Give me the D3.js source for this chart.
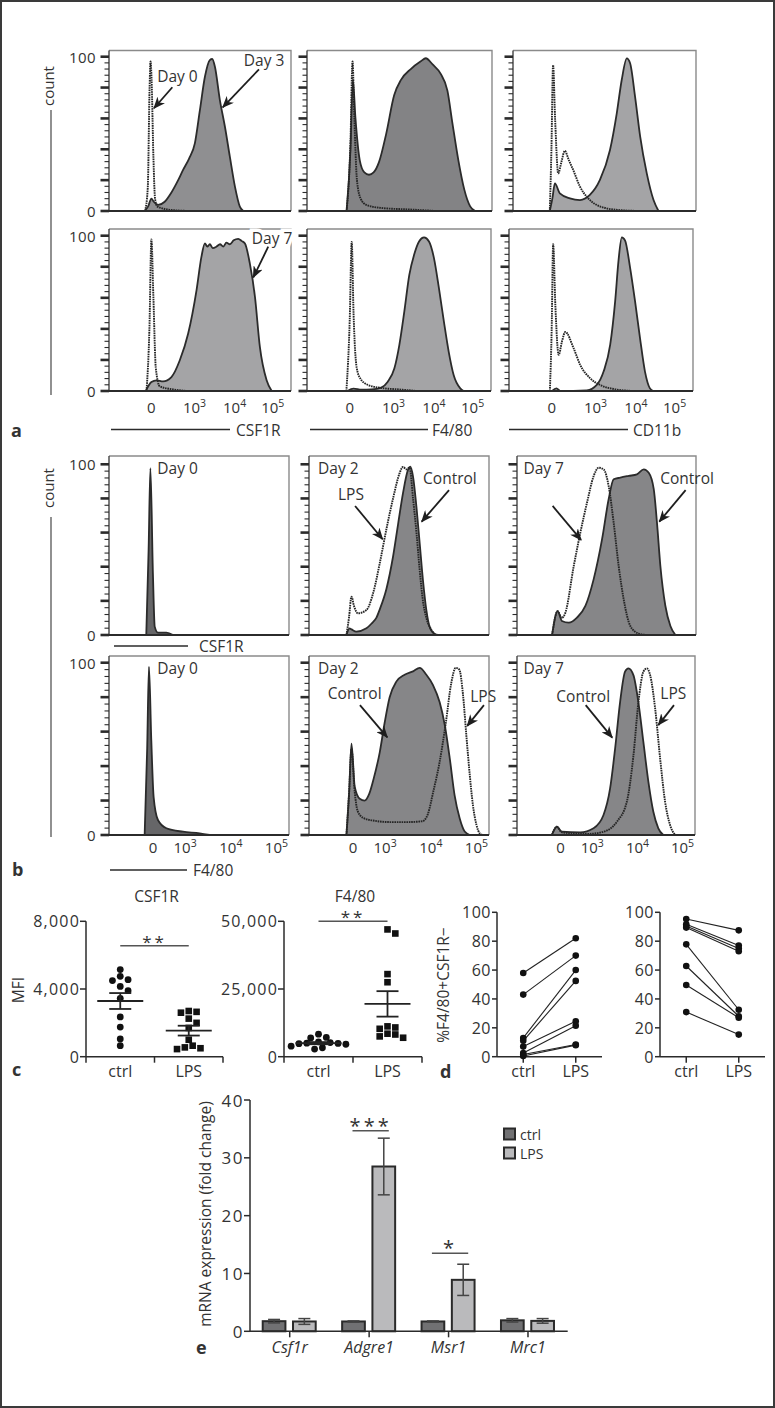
<!DOCTYPE html>
<html><head><meta charset="utf-8">
<script src="https://cdn.jsdelivr.net/npm/d3@7"></script>
<style>
body{margin:0;background:#fff;}
text{font-family:'Open Sans',sans-serif;fill:#333;}
</style>
</head><body><svg id="fig" width="775" height="1408"></svg>
<script>
// ---------------- DATA ----------------
// Histogram curves: [channel position (% of axis width), count (% of max)]
// Panel a, top row (Day 0 dotted vs Day 3 filled)
const aCsf1rDay0 = [[19.8,0],[21.3,15],[22.3,80],[22.8,97],[23.4,85],[24.4,35],[25.3,8],[26.5,3],[30,1.5],[36,0.5],[45,0]];
const aCsf1rDay3 = [[19.6,0],[21.5,3],[23.3,8],[24.6,6],[27,4],[30.6,6],[34.3,12],[38,20],[40.7,26.6],[44,34],[47.2,44],[49.9,65],[52.7,87],[55.4,97.8],[56.7,98.5],[58.2,93.5],[60.9,72],[63.7,54.6],[66.4,35.2],[69.2,15.8],[71.9,2.8],[73.8,0]];
const aF480Day0 = [[21.4,0],[23.5,45],[24.6,97],[25.6,60],[27,20],[29,8],[32,4],[40,2],[55,1],[70,0]];
const aF480Day3 = [[21.4,0],[23.5,40],[24.8,85],[26.2,60],[28.5,33],[31,25],[33.5,23.5],[36,25],[39,32],[42.8,50],[47.1,75],[50.8,85],[56.1,92],[61.5,97],[64.2,99],[67.9,95],[72.2,89],[75.9,78],[78.6,57],[81.8,33],[85,14],[88.2,3],[90.9,0]];
const aCd11bDay0 = [[20.1,0],[21,40],[21.9,94.6],[23,60],[24.7,24.4],[26.5,32],[28.3,39],[30.5,33],[32.9,26.6],[36.6,15.8],[41.1,8.2],[45.7,3.9],[51.2,1.7],[58.5,0.6],[69.5,0]];
const aCd11bDay3 = [[20.1,0],[21.5,8],[22.9,17.9],[25.6,11.4],[31.1,8.2],[36.6,7.1],[42,10.4],[47.5,20.1],[53,39.5],[56.7,63.3],[59.4,84.9],[62.2,98.9],[64,95.7],[66.7,74.1],[69.5,48.2],[73.1,24.4],[76.8,7.1],[79.5,0]];
// Panel a, bottom row (Day 0 dotted vs Day 7 filled)
const aCsf1rDay0b = [[20.6,0],[22.2,40],[23.3,97.6],[24.4,60],[25.7,15],[27.9,3],[35.2,1],[42.6,0]];
const aCsf1rDay7 = [[20.2,0],[23.3,5.8],[26.1,6.9],[29.7,6.2],[34.3,9],[38.9,19.8],[43.5,37],[48.1,65],[50.8,86.5],[52.7,95],[54,93],[55.4,94.5],[57,92],[59.1,93],[61,94.5],[62.8,93],[64.5,95.5],[66.4,94.5],[68.5,97],[71,98],[73,96.5],[74.7,95],[77.4,82],[80.2,60.6],[82.9,28.4],[86.6,6.9],[89.4,0]];
const aF480Day0b = [[21.4,0],[23.2,45],[24.3,96],[25.3,50],[27,15],[29,8],[33,4],[40,2],[50,1],[60,0]];
const aF480Day7 = [[22,0],[25.3,1.5],[29.6,0.8],[35,1],[40.3,2.2],[43.9,6],[47.5,14.6],[50.2,29.7],[52.9,51.2],[55.6,74.8],[58.2,87.7],[60.9,96.3],[63.6,98.9],[66.3,96.3],[69,85.6],[71.7,66.2],[74.4,44.7],[77,25.4],[79.7,10.3],[83.3,1.7],[85.1,0]];
const aCd11bDay0b = [[22.2,0],[23.2,40],[24,94.6],[25.2,55],[27,23.3],[28.8,32],[30.6,38],[35.1,27.6],[38.7,16.8],[44.1,8.2],[49.5,3.9],[56.8,1.3],[67.6,0]];
const aCd11bDay7 = [[23.4,0],[25.8,1.7],[27.9,0],[42.3,0.4],[47.7,3.9],[51.4,12.5],[55,29.8],[57.7,57.9],[59.5,83.8],[61.3,98.9],[63.1,96.8],[65.8,79.5],[68.5,57.9],[71.2,34.1],[73.9,12.5],[76.6,1.7],[78.4,0]];
// Panel b, top row CSF1R
const bCsf1rDay0 = [[20.7,0],[22,50],[23,97.7],[24.4,36],[25.4,4.9],[27.2,1.4],[31.9,1.4],[35.6,0]];
const bCsf1rDay2Ctrl = [[20.8,0],[22.5,3.9],[23.6,3.3],[26.3,2],[31.9,3.9],[35,7],[37.4,10],[39.3,15],[43,27],[46.7,46],[49.5,65],[52.2,83],[55,96.7],[56.3,98.6],[57.8,92.8],[59.7,75],[61.5,53.7],[63.3,32.2],[65.2,14.6],[67,4.9],[69.8,0.6],[71.7,0]];
const bCsf1rDay2Lps = [[20.8,0],[22.2,10],[23.6,22.5],[25,17],[27.2,12.7],[31.9,14.6],[35.6,24.4],[39.3,42],[43,62],[46.7,80],[50.4,95],[52.2,98.5],[54.1,97],[55.9,98],[57.8,80],[59.7,60],[61.5,38],[63.3,20],[65.2,10],[68,3],[70.8,0]];
const bCsf1rDay7Ctrl = [[19.6,0],[22.7,14],[25.1,8.2],[28.9,7.2],[33.5,10.2],[38.2,17],[42.8,32.6],[47.5,56],[51.2,79.5],[54,91.2],[57.7,92.2],[62.4,93.2],[67,94.1],[70.8,97],[73.6,95],[76.4,85.4],[78.2,65.8],[80.1,40.4],[82.9,17],[85.7,5.3],[88.5,0]];
const bCsf1rDay7Lps = [[19.6,0],[22.7,14],[25,10],[27,13],[31.7,40.4],[35.4,60],[39.1,77.5],[42.8,93],[45.6,98],[48.4,97],[51.2,87.3],[54,65.8],[56.8,40.4],[59.6,20.9],[63.3,5.3],[68,0.8],[72.6,0]];
// Panel b, bottom row F4/80
const bF480Day0 = [[19.8,0],[21.2,50],[22.2,97.7],[23.5,55],[24.8,22],[27.2,8.7],[31.9,3.9],[41.1,1.9],[50.4,1],[55.9,0]];
const bF480Day2Ctrl = [[20.8,0],[22.3,25],[23.6,53],[25.4,28],[28.2,21],[30.9,20],[33.5,24],[36,33],[39.3,48],[42,65],[44.8,80],[48.5,89],[53.1,93],[57.8,95],[61.5,97],[65.2,93],[68.9,87],[72.6,77],[75.4,64],[78.2,44.5],[80.9,23],[83.7,9.7],[86.5,2],[89.3,0]];
const bF480Day2Lps = [[20.8,0],[22.3,25],[23.6,50],[25.4,25],[27,14],[30,10],[35,8.5],[45,7.5],[55,7.5],[63,8],[66,12],[69,25],[72.5,42],[76,65],[79,88],[81.5,97],[83.5,96],[85.5,82],[87.4,58],[89.3,35],[91.1,17],[93,6],[94.8,1],[96.7,0]];
const bF480Day7Ctrl = [[19.6,0],[22.4,4.8],[25.2,1.9],[35.5,1.5],[43,3.9],[48.6,11.6],[52.3,27],[55.1,50],[57.9,77],[60.7,94.8],[62.6,96.7],[65.4,92.8],[68.2,77],[71,54],[73.8,31],[76.6,13.5],[79.4,3.9],[82.2,0]];
const bF480Day7Lps = [[19.6,0],[22.4,4.8],[25.2,1.5],[39.3,0.6],[48.6,1.9],[56.1,7.7],[61.7,19.3],[65.4,46],[68.2,77],[71,94.8],[72.9,96.7],[74.8,92.8],[77.6,73.5],[80.4,44.5],[83.2,19.3],[86,5.8],[88.8,0]];
// Histogram axis tick labels
const histTickBase = ["0","10","10","10"];
const histTickExp = ["", "3", "4", "5"];
const aTickPos = [23.3, 47, 69, 90];
const bTickPos = [24.5, 42.3, 67.7, 93];
const histCountTicks = [0, 100];

// Panel c (MFI)
const cCats = ["ctrl", "LPS"];
const cCsf1rCtrl = [5150, 4750, 4550, 4500, 4150, 3900, 3450, 2350, 1750, 1050, 650];
const cCsf1rLps = [2700, 2650, 2600, 2250, 2000, 1700, 1000, 650, 550, 500, 450];
const cCsf1rMean = [3290, 1540];
const cCsf1rSem = [470, 290];
const cCsf1rTicks = [0, 4000, 8000];
const cF480Ctrl = [8300, 7100, 6900, 5500, 5200, 5000, 4900, 4800, 4600, 3900, 3300, 2800];
const cF480Lps = [47000, 45500, 30500, 27500, 11200, 10800, 10300, 8500, 8200, 7500, 7000];
const cF480Mean = [5000, 19500];
const cF480Sem = [400, 4700];
const cF480Ticks = [0, 25000, 50000];
const cSigLevels = [6560, 50000];

// Panel d (% F4/80+CSF1R-)
const dCats = ["ctrl", "LPS"];
const dLeftCtrl = [58, 43, 13, 11, 7, 2.5, 1.5, 0.5];
const dLeftLps  = [82, 70, 60, 52.5, 24.5, 21.5, 8.5, 8];
const dRightCtrl = [95.4, 91.7, 90.5, 89.4, 77.8, 62.8, 49.7, 30.9];
const dRightLps  = [87.5, 77, 75, 73, 32.5, 28, 27, 15.3];
const dTicks = [0, 20, 40, 60, 80, 100];

// Panel e (mRNA)
const eGenes = ["Csf1r", "Adgre1", "Msr1", "Mrc1"];
const eGroups = ["ctrl", "LPS"];
const eCtrl = [1.75, 1.7, 1.7, 1.9];
const eCtrlErr = [0.3, 0.1, 0.1, 0.3];
const eLps = [1.7, 28.5, 8.9, 1.8];
const eLpsErr = [0.5, 4.9, 2.7, 0.4];
const eTicks = [0, 10, 20, 30, 40];
const eSigGenes = ["Adgre1", "Msr1"];
const eSigLabels = ["***", "*"];
const eSigLevels = [34.7, 13.5];

// ---------------- DRAWING ----------------
const svg = d3.select("#fig");
const INK = "#2b2b2b";
svg.append("rect").attr("x",1).attr("y",1).attr("width",773).attr("height",1406)
  .attr("fill","#fff").attr("stroke","#3a3a3a").attr("stroke-width",2);

const defs = svg.append("defs");
defs.append("marker").attr("id","arr").attr("viewBox","0 0 12 10").attr("refX",11).attr("refY",5)
  .attr("markerWidth",12).attr("markerHeight",10).attr("markerUnits","userSpaceOnUse").attr("orient","auto")
  .append("path").attr("d","M0,0 L12,5 L0,10 L3.5,5 Z").attr("fill","#1e1e1e");

function txt(g, x, y, s, o = {}) {
  const t = g.append("text").attr("x", x).attr("y", y).text(s)
    .attr("font-size", o.size || 15).attr("text-anchor", o.anchor || "start");
  if (o.weight) t.attr("font-weight", o.weight);
  if (o.style) t.attr("font-style", o.style);
  if (o.rotate) t.attr("transform", `rotate(-90,${x},${y})`);
  if (o.db) t.attr("dominant-baseline", o.db);
  if (o.ls) t.attr("letter-spacing", o.ls);
  return t;
}

function hist(p) {
  const g = svg.append("g");
  const x = d3.scaleLinear().domain([0, 100]).range([p.x0, p.x1]);
  const y = d3.scaleLinear().domain([0, 100]).range([p.yZero, p.yHund]);
  const area = d3.area().curve(d3.curveMonotoneX).x(d => x(d[0])).y0(y(0)).y1(d => y(d[1]));
  const line = d3.line().curve(d3.curveMonotoneX).x(d => x(d[0])).y(d => y(d[1]));
  g.append("path").attr("d", `M${p.x0},${p.yTop}H${p.x1}V${p.yZero}`)
    .attr("fill", "none").attr("stroke", "#8a8a8a").attr("stroke-width", 1.4);
  if (p.filled) {
    g.append("path").attr("d", area(p.filled)).attr("fill", p.fill);
    g.append("path").attr("d", line(p.filled)).attr("fill", "none").attr("stroke", INK).attr("stroke-width", 1.8);
  }
  if (p.dotted) {
    g.append("path").attr("d", line(p.dotted)).attr("fill", "none").attr("stroke", "#262626")
      .attr("stroke-width", 1.9).attr("stroke-dasharray", "1.6,0.8");
  }
  g.append("line").attr("x1", p.x0).attr("x2", p.x0).attr("y1", p.yTop).attr("y2", p.yZero)
    .attr("stroke", "#444").attr("stroke-width", 1.4);
  g.append("line").attr("x1", p.x0 - 1).attr("x2", p.x1).attr("y1", p.yZero).attr("y2", p.yZero)
    .attr("stroke", INK).attr("stroke-width", 2);
  d3.range(0, 101, 4).forEach(v => {
    const major = v % 20 === 0;
    g.append("line").attr("x1", p.x0 - (major ? 8.5 : 4.5)).attr("x2", p.x0)
      .attr("y1", y(v)).attr("y2", y(v)).attr("stroke", INK).attr("stroke-width", major ? 2.6 : 1.1);
  });
  if (p.yLabels) {
    histCountTicks.forEach(v => txt(g, p.x0 - 13, y(v), String(v), {size: 15, anchor: "end", db: "central", ls: 0.4}));
  }
  if (p.tickPos) {
    p.tickPos.forEach((pos, i) => {
      const t = g.append("text").attr("x", x(pos)).attr("y", p.tickY).attr("font-size", 15).attr("text-anchor", "middle");
      t.append("tspan").text(histTickBase[i]);
      if (histTickExp[i]) t.append("tspan").attr("font-size", 10.5).attr("dy", -6).text(histTickExp[i]);
    });
  }
  (p.notes || []).forEach(n => {
    if (n.text) {
      const t = txt(g, x(n.at[0]), y(n.at[1]), n.text, {size: 15.5, anchor: "middle", db: "central"});
      if (n.halo) t.attr("stroke", "#fff").attr("stroke-width", 7).attr("paint-order", "stroke");
    }
    if (n.from) {
      g.append("line").attr("x1", x(n.from[0])).attr("y1", y(n.from[1]))
        .attr("x2", x(n.to[0])).attr("y2", y(n.to[1]))
        .attr("stroke", "#1e1e1e").attr("stroke-width", 1.8).attr("marker-end", "url(#arr)");
    }
  });
}

const aR1 = {yTop: 50.5, yZero: 211, yHund: 56.7};
const aR2 = {yTop: 229, yZero: 391, yHund: 235.7};
const bR1 = {yTop: 456, yZero: 635, yHund: 464.3};
const bR2 = {yTop: 656, yZero: 835, yHund: 662.7};
const FA1 = "#8f8f91", FA2 = "#a4a4a6", FB = "#868688", FB0 = "#666668";

// Panel a
hist({...aR1, x0: 109, x1: 291, filled: aCsf1rDay3, dotted: aCsf1rDay0, fill: FA1, yLabels: true,
  notes: [{text: "Day 0", at: [37.6, 87.3], from: [34.8, 80.2], to: [24.7, 66.6]},
          {text: "Day 3", at: [85.2, 97.9], from: [82.4, 91.8], to: [62.5, 67.2]}]});
hist({...aR1, x0: 307, x1: 492, filled: aF480Day3, dotted: aF480Day0, fill: "#838385"});
hist({...aR1, x0: 513, x1: 696, filled: aCd11bDay3, dotted: aCd11bDay0, fill: FA2});
hist({...aR2, x0: 109, x1: 291, filled: aCsf1rDay7, dotted: aCsf1rDay0b, fill: FA2, yLabels: true, tickPos: aTickPos, tickY: 413,
  notes: [{text: "Day 7", at: [89.6, 98.8], from: [87.5, 92.9], to: [79.3, 73.2], halo: true}]});
hist({...aR2, x0: 307, x1: 491, filled: aF480Day7, dotted: aF480Day0b, fill: FA2, tickPos: aTickPos, tickY: 413});
hist({...aR2, x0: 509, x1: 693, filled: aCd11bDay7, dotted: aCd11bDay0b, fill: FA2, tickPos: aTickPos, tickY: 413});

// Panel b
hist({...bR1, x0: 109, x1: 289, filled: bCsf1rDay0, fill: FB0, yLabels: true,
  notes: [{text: "Day 0", at: [38.1, 98]}]});
hist({...bR1, x0: 309, x1: 489, filled: bCsf1rDay2Ctrl, dotted: bCsf1rDay2Lps, fill: FB,
  notes: [{text: "Day 2", at: [16.3, 98]},
          {text: "LPS", at: [23.3, 82.4], from: [25.6, 75.6], to: [40.9, 56.1]},
          {text: "Control", at: [78.3, 91.8], from: [77.8, 84.9], to: [62.6, 66.4]}]});
hist({...bR1, x0: 517, x1: 696, filled: bCsf1rDay7Ctrl, dotted: bCsf1rDay7Lps, fill: FB,
  notes: [{text: "Day 7", at: [14.9, 98]},
          {from: [19.9, 75.6], to: [35.8, 55.7]},
          {text: "Control", at: [95, 91.8], from: [94.2, 84.9], to: [79.5, 66.4]}]});
hist({...bR2, x0: 109, x1: 289, filled: bF480Day0, fill: FB0, yLabels: true, tickPos: bTickPos, tickY: 853,
  notes: [{text: "Day 0", at: [38.1, 97.1]}]});
hist({...bR2, x0: 309, x1: 489, filled: bF480Day2Ctrl, dotted: bF480Day2Lps, fill: FB, tickPos: bTickPos, tickY: 853,
  notes: [{text: "Day 2", at: [16.3, 97.1]},
          {text: "Control", at: [25.4, 82.2], from: [28.3, 75.4], to: [43.5, 56.7]},
          {text: "LPS", at: [96.8, 80.7], from: [97.2, 75.4], to: [87.9, 63.3]}]});
hist({...bR2, x0: 517, x1: 695, filled: bF480Day7Ctrl, dotted: bF480Day7Lps, fill: FB, tickPos: bTickPos, tickY: 853,
  notes: [{text: "Day 7", at: [15, 97.1]},
          {text: "Control", at: [37.2, 80.7], from: [38.6, 75.4], to: [53.5, 56.5]},
          {text: "LPS", at: [87.8, 82.6], from: [88.2, 75.4], to: [79.4, 63.8]}]});

// Axis names and count labels (a, b)
const lab = svg.append("g");
function axisName(x1, x2, y, s, tx) {
  lab.append("line").attr("x1", x1).attr("x2", x2).attr("y1", y).attr("y2", y).attr("stroke", INK).attr("stroke-width", 1.3);
  txt(lab, tx, y, s, {size: 15.5, db: "central"});
}
axisName(111, 230, 429.5, "CSF1R", 236);
axisName(310, 428, 429.5, "F4/80", 432);
axisName(509, 628, 429.5, "CD11b", 633);
axisName(114, 188, 646, "CSF1R", 199);
axisName(110, 187, 870, "F4/80", 193);
function countLabel(cy, l1, l2) {
  txt(lab, 48, cy, "count", {size: 15, anchor: "middle", rotate: true, db: "central"});
  lab.append("line").attr("x1", 51).attr("x2", 51).attr("y1", l1).attr("y2", l2).attr("stroke", "#555").attr("stroke-width", 1.3);
}
countLabel(86, 110, 395);
countLabel(488, 517, 837);
txt(lab, 11, 437, "a", {size: 18, weight: "bold"});
txt(lab, 12, 876, "b", {size: 18, weight: "bold"});
txt(lab, 12, 1076, "c", {size: 18, weight: "bold"});
txt(lab, 440, 1078, "d", {size: 18, weight: "bold"});
txt(lab, 196, 1354, "e", {size: 18, weight: "bold"});

// swarm helper
function swarm(vals, yScale, cx, r) {
  const pts = vals.map(v => ({v, y: yScale(v)})).sort((a, b) => a.y - b.y);
  const placed = [];
  pts.forEach(p => {
    const cand = [0];
    for (let i = 1; i < 12; i++) cand.push(i * r * 1.15, -i * r * 1.15);
    let off = 0;
    for (const o of cand) {
      if (placed.every(q => Math.hypot(q.x - (cx + o), q.y - p.y) >= 2 * r * 0.92)) { off = o; break; }
    }
    p.x = cx + off; placed.push(p);
  });
  return pts;
}

// Panel c
function mfiPanel(o) {
  const g = svg.append("g");
  const x = d3.scaleBand().domain(cCats).range([o.x0, o.x1]);
  const y = d3.scaleLinear().domain([0, o.max]).range([1056.7, 921.3]);
  const cx = c => x(c) + x.bandwidth() / 2;
  g.append("line").attr("x1", o.x0).attr("x2", o.x0).attr("y1", y(o.max)).attr("y2", y(0)).attr("stroke", INK).attr("stroke-width", 1.5);
  g.append("line").attr("x1", o.x0).attr("x2", o.x1).attr("y1", y(0)).attr("y2", y(0)).attr("stroke", INK).attr("stroke-width", 1.5);
  o.ticks.forEach(v => {
    g.append("line").attr("x1", o.x0 - 6).attr("x2", o.x0).attr("y1", y(v)).attr("y2", y(v)).attr("stroke", INK).attr("stroke-width", 1.5);
    txt(g, o.x0 - 6, y(v), d3.format(",")(v), {size: 16, anchor: "end", db: "central", ls: 1.2});
  });
  [o.x0, ...cCats.map(c => x(c) + x.bandwidth())].forEach(xx =>
    g.append("line").attr("x1", xx).attr("x2", xx).attr("y1", y(0)).attr("y2", y(0) + 6).attr("stroke", INK).attr("stroke-width", 1.5));
  cCats.forEach(c => txt(g, cx(c), 1077, c, {size: 16, anchor: "middle"}));
  txt(g, (o.x0 + o.x1) / 2 + 2, 902, o.title, {size: 15.5, anchor: "middle"});
  swarm(o.ctrl, y, cx("ctrl"), 3.4).forEach(p =>
    g.append("circle").attr("cx", p.x).attr("cy", p.y).attr("r", 3.4).attr("fill", "#111"));
  swarm(o.lps, y, cx("LPS"), 3.4).forEach(p =>
    g.append("rect").attr("x", p.x - 3.3).attr("y", p.y - 3.3).attr("width", 6.6).attr("height", 6.6).attr("fill", "#111"));
  cCats.forEach((c, i) => {
    const m = o.mean[i], s = o.sem[i], xc = cx(c);
    g.append("line").attr("x1", xc - 23).attr("x2", xc + 23).attr("y1", y(m)).attr("y2", y(m)).attr("stroke", "#222").attr("stroke-width", 1.8);
    g.append("line").attr("x1", xc).attr("x2", xc).attr("y1", y(m - s)).attr("y2", y(m + s)).attr("stroke", "#222").attr("stroke-width", 1.8);
    [m - s, m + s].forEach(v => g.append("line").attr("x1", xc - 11).attr("x2", xc + 11).attr("y1", y(v)).attr("y2", y(v)).attr("stroke", "#222").attr("stroke-width", 1.8));
  });
  const sy = y(o.sig);
  g.append("line").attr("x1", cx("ctrl")).attr("x2", cx("LPS")).attr("y1", sy).attr("y2", sy).attr("stroke", "#555").attr("stroke-width", 1.5);
  txt(g, (cx("ctrl") + cx("LPS")) / 2, sy + 2, "**", {size: 17, anchor: "middle", ls: 3});
}
mfiPanel({x0: 86, x1: 223, max: 8000, ticks: cCsf1rTicks, ctrl: cCsf1rCtrl, lps: cCsf1rLps, mean: cCsf1rMean, sem: cCsf1rSem, title: "CSF1R", sig: cSigLevels[0]});
mfiPanel({x0: 284, x1: 422, max: 50000, ticks: cF480Ticks, ctrl: cF480Ctrl, lps: cF480Lps, mean: cF480Mean, sem: cF480Sem, title: "F4/80", sig: cSigLevels[1]});
txt(svg, 18, 990, "MFI", {size: 15.5, anchor: "middle", rotate: true, db: "central"});

// Panel d
function pairPanel(x0, x1, ctrl, lps) {
  const g = svg.append("g");
  const x = d3.scalePoint().domain(dCats).range([x0, x1]).padding(0.5);
  const y = d3.scaleLinear().domain([0, 100]).range([1056.7, 912.3]);
  g.append("line").attr("x1", x0).attr("x2", x0).attr("y1", y(100)).attr("y2", y(0)).attr("stroke", INK).attr("stroke-width", 1.5);
  g.append("line").attr("x1", x0).attr("x2", x1).attr("y1", y(0)).attr("y2", y(0)).attr("stroke", INK).attr("stroke-width", 1.5);
  dTicks.forEach(v => {
    g.append("line").attr("x1", x0 - 5).attr("x2", x0).attr("y1", y(v)).attr("y2", y(v)).attr("stroke", INK).attr("stroke-width", 1.5);
    txt(g, x0 - 6, y(v), String(v), {size: 16, anchor: "end", db: "central", ls: 0.5});
  });
  dCats.forEach(c => {
    g.append("line").attr("x1", x(c)).attr("x2", x(c)).attr("y1", y(0)).attr("y2", y(0) + 6).attr("stroke", INK).attr("stroke-width", 1.5);
    txt(g, x(c), 1077, c, {size: 16, anchor: "middle"});
  });
  ctrl.forEach((v, i) => {
    g.append("line").attr("x1", x("ctrl")).attr("x2", x("LPS")).attr("y1", y(v)).attr("y2", y(lps[i])).attr("stroke", "#222").attr("stroke-width", 1.1);
  });
  ctrl.concat(lps).forEach((v, i) => {
    g.append("circle").attr("cx", i < ctrl.length ? x("ctrl") : x("LPS")).attr("cy", y(v)).attr("r", 3.3).attr("fill", "#111");
  });
}
pairPanel(497, 602, dLeftCtrl, dLeftLps);
pairPanel(660, 765, dRightCtrl, dRightLps);
txt(svg, 443, 985, "%F4/80+CSF1R\u2212", {size: 15.5, anchor: "middle", rotate: true, db: "central"});

// Panel e
(function () {
  const g = svg.append("g");
  const x = d3.scaleBand().domain(eGenes).range([250, 567.7]);
  const sub = d3.scaleBand().domain(eGroups).range([-27, 26]).paddingInner(0.25);
  const y = d3.scaleLinear().domain([0, 40]).range([1331.3, 1100]);
  const cx = gname => x(gname) + x.bandwidth() / 2;
  const fills = {ctrl: "#717173", LPS: "#bababc"};
  const vals = {ctrl: eCtrl, LPS: eLps};
  const errs = {ctrl: eCtrlErr, LPS: eLpsErr};
  eGenes.forEach((gn, i) => {
    eGroups.forEach(k => {
      const v = vals[k][i], e = errs[k][i];
      const bx = cx(gn) + sub(k);
      g.append("rect").attr("x", bx).attr("y", y(v)).attr("width", sub.bandwidth()).attr("height", y(0) - y(v))
        .attr("fill", fills[k]).attr("stroke", "#2a2a2a").attr("stroke-width", 2);
      const mx = bx + sub.bandwidth() / 2;
      g.append("line").attr("x1", mx).attr("x2", mx).attr("y1", y(v - e)).attr("y2", y(v + e)).attr("stroke", "#444").attr("stroke-width", 1.5);
      [v - e, v + e].forEach(t => g.append("line").attr("x1", mx - 6).attr("x2", mx + 6).attr("y1", y(t)).attr("y2", y(t)).attr("stroke", "#444").attr("stroke-width", 1.5));
    });
  });
  g.append("line").attr("x1", 250).attr("x2", 250).attr("y1", y(40)).attr("y2", y(0)).attr("stroke", INK).attr("stroke-width", 1.5);
  g.append("line").attr("x1", 250).attr("x2", 567.7).attr("y1", y(0)).attr("y2", y(0)).attr("stroke", INK).attr("stroke-width", 1.5);
  eTicks.forEach(v => {
    g.append("line").attr("x1", 244).attr("x2", 250).attr("y1", y(v)).attr("y2", y(v)).attr("stroke", INK).attr("stroke-width", 1.5);
    txt(g, 244, y(v), String(v), {size: 17, anchor: "end", db: "central", ls: 1.5});
  });
  eGenes.forEach(gn => {
    g.append("line").attr("x1", cx(gn)).attr("x2", cx(gn)).attr("y1", y(0)).attr("y2", y(0) + 6).attr("stroke", INK).attr("stroke-width", 1.5);
    txt(g, cx(gn), 1353, gn, {size: 16, anchor: "middle", style: "italic"});
  });
  eSigGenes.forEach((gn, i) => {
    const x1 = cx(gn) + sub("ctrl") + sub.bandwidth() / 2 - 1;
    const x2 = cx(gn) + sub("LPS") + sub.bandwidth() / 2 + 5;
    const sy = y(eSigLevels[i]);
    g.append("line").attr("x1", x1).attr("x2", x2).attr("y1", sy).attr("y2", sy).attr("stroke", "#555").attr("stroke-width", 1.5);
    txt(g, (x1 + x2) / 2, sy + 2, eSigLabels[i], {size: 20, anchor: "middle", ls: 3});
  });
  eGroups.forEach((k, i) => {
    const ly = 1128.5 + i * 19;
    g.append("rect").attr("x", 504).attr("y", ly).attr("width", 11).attr("height", 11).attr("fill", fills[k]).attr("stroke", "#2a2a2a").attr("stroke-width", 2);
    txt(g, 520, ly + 5.5, k, {size: 14, db: "central"});
  });
  txt(g, 205, 1214, "mRNA expression (fold change)", {size: 15.5, anchor: "middle", rotate: true, db: "central"});
})();
</script></body></html>
